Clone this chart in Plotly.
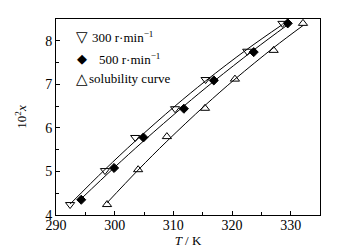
import numpy as np
import plotly.graph_objects as go

# Data
T_300 = [292.4, 298.35, 303.5, 310.3, 315.5, 322.6, 328.6]
x_300 = [4.24, 5.02, 5.78, 6.44, 7.11, 7.76, 8.40]

T_500 = [294.3, 299.9, 304.9, 311.8, 316.9, 323.7, 329.5]
x_500 = [4.35, 5.08, 5.78, 6.44, 7.09, 7.74, 8.40]

T_sol = [298.7, 304.0, 308.9, 315.4, 320.5, 327.1, 332.1]
x_sol = [4.24, 5.04, 5.80, 6.45, 7.12, 7.78, 8.40]

names = ["300 r·min<sup>−1</sup>", "500 r·min<sup>−1</sup>", "solubility curve"]
symbols = ["triangle-down-open", "diamond", "triangle-up-open"]
legend_glyphs = ["▽", "◆", "△"]
sizes = [8, 7, 8]

FONT = "Liberation Serif, Times New Roman, serif"

fig = go.Figure()
for T, x, nm, sym, sz in zip([T_300, T_500, T_sol], [x_300, x_500, x_sol], names, symbols, sizes):
    coef = np.polyfit(T, x, 2)
    fit = np.polyval(coef, T)
    fig.add_trace(go.Scatter(x=T, y=fit, mode="lines",
                             line=dict(color="black", width=1, shape="spline"),
                             showlegend=False, hoverinfo="skip"))
    fig.add_trace(go.Scatter(x=T, y=x, mode="markers", name=nm, showlegend=False,
                             marker=dict(symbol=sym, size=sz, color="black",
                                         line=dict(color="black", width=1))))

# legend drawn as annotations (symbol glyph + label)
leg_y = [0.908, 0.796, 0.694]
leg_text_x = [0.130, 0.155, 0.118]
for g, nm, yy, tx in zip(legend_glyphs, names, leg_y, leg_text_x):
    fig.add_annotation(x=0.098, y=yy, xref="paper", yref="paper", text=g, showarrow=False,
                       xanchor="center", yanchor="middle",
                       font=dict(family="DejaVu Sans", size=15 if g != "◆" else 13, color="black"))
    fig.add_annotation(x=tx, y=yy, xref="paper", yref="paper", text=nm, showarrow=False,
                       xanchor="left", yanchor="middle",
                       font=dict(family=FONT, size=13, color="black"))

axis_common = dict(showline=True, linecolor="black", linewidth=1, mirror=True, ticks="inside",
                   ticklen=4, tickcolor="black", showgrid=False, zeroline=False,
                   tickfont=dict(family=FONT, size=14, color="black"))

fig.update_layout(
    width=341, height=250,
    margin=dict(l=48, r=29, t=11, b=43),
    paper_bgcolor="white", plot_bgcolor="white",
    font=dict(family=FONT, size=13, color="black"),
    xaxis=dict(range=[290, 335], dtick=10, tick0=290, ticklabelstandoff=-3,
               minor=dict(ticks="inside", dtick=5, ticklen=3, tickcolor="black"),
               title=dict(text="<i>T</i> / K", font=dict(family=FONT, size=13), standoff=2),
               **axis_common),
    yaxis=dict(range=[4, 8.5], dtick=1, tick0=4,
               minor=dict(ticks="inside", dtick=0.5, ticklen=3, tickcolor="black"),
               title=dict(text="10<sup>2</sup><i>x</i>", font=dict(family=FONT, size=13), standoff=15),
               **axis_common),
    showlegend=False,
)

fig.write_html("out.html")
